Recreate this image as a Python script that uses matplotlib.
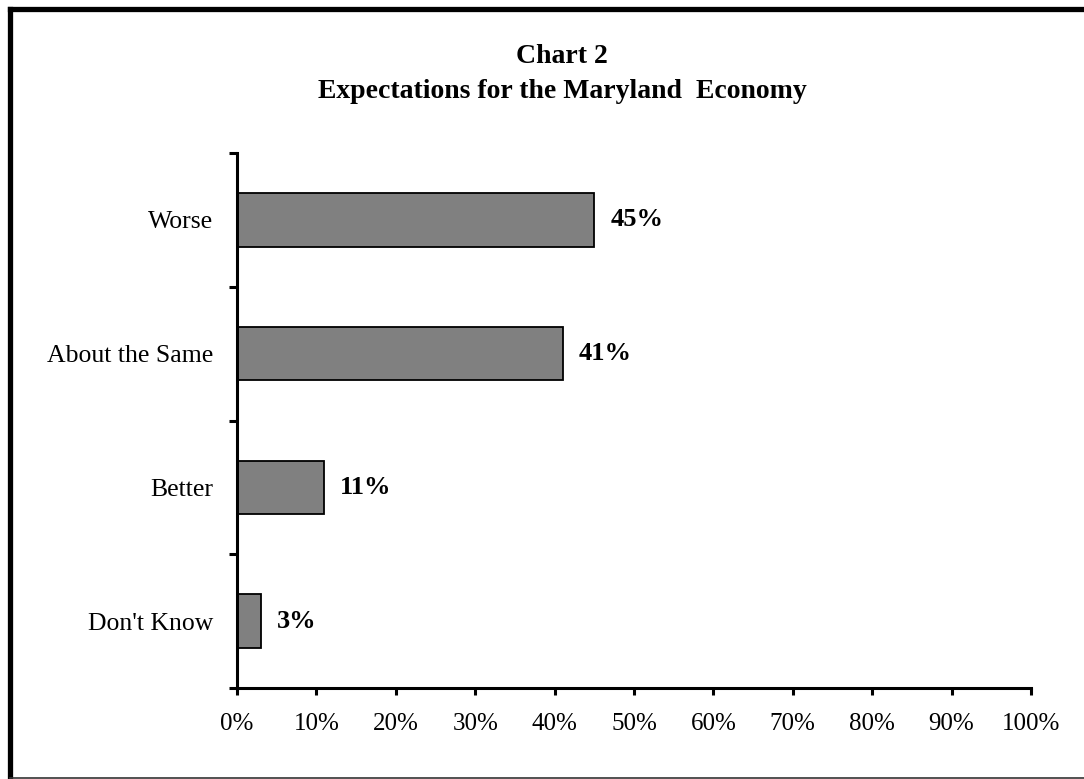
import matplotlib.pyplot as plt
from matplotlib.lines import Line2D

# survey results, bottom to top
categories = ["Don't Know", "Better", "About the Same", "Worse"]
shares = [3, 11, 41, 45]
x_ticks = [0, 10, 20, 30, 40, 50, 60, 70, 80, 90, 100]

plt.rcParams["font.family"] = ["Liberation Serif", "DejaVu Serif"]

W, H = 1084, 779
fig = plt.figure(figsize=(W / 100, H / 100), dpi=100)
ax = fig.add_axes([237 / W, 1 - 688 / H, (1031 - 237) / W, (688 - 153) / H])

pos = list(range(len(categories)))
ax.barh(pos, shares, height=0.4, color="#808080", edgecolor="black", linewidth=1.3)

for y, v in zip(pos, shares):
    ax.text(v + 2.0, y, f"{v}%", va="center", ha="left",
            fontsize=19, fontweight="bold")

ax.set_xlim(0, 100)
ax.set_ylim(-0.5, len(categories) - 0.5)

# ticks on the category boundaries, labels in between
ax.set_yticks([p - 0.5 for p in pos] + [len(pos) - 0.5])
ax.set_yticklabels([])
ax.set_yticks(pos, minor=True)
ax.set_yticklabels(categories, minor=True, fontsize=18.5)
ax.tick_params(axis="y", which="major", direction="out", length=6, width=2.2)
ax.tick_params(axis="y", which="minor", length=0, pad=17)

ax.set_xticks(x_ticks)
ax.set_xticklabels([f"{t}%" for t in x_ticks], fontsize=18)
ax.tick_params(axis="x", direction="out", length=5, width=2.2, pad=13)

for s in ["top", "right"]:
    ax.spines[s].set_visible(False)
for s in ["left", "bottom"]:
    ax.spines[s].set_linewidth(2.2)

fig.text(562 / W, 1 - 63 / H, "Chart 2", ha="center", va="baseline",
         fontsize=20, fontweight="bold")
fig.text(562 / W, 1 - 98 / H, "Expectations for the Maryland  Economy",
         ha="center", va="baseline", fontsize=20, fontweight="bold")

# outer frame
fig.add_artist(Line2D([9.5 / W, 9.5 / W], [0, 1 - 9 / H], color="black",
                      linewidth=3.8, transform=fig.transFigure, solid_capstyle="projecting"))
fig.add_artist(Line2D([9.5 / W, 1], [1 - 9 / H, 1 - 9 / H], color="black",
                      linewidth=3.8, transform=fig.transFigure, solid_capstyle="projecting"))
fig.add_artist(Line2D([9.5 / W, 1], [1.2 / H, 1.2 / H], color="#333333",
                      linewidth=1.2, transform=fig.transFigure))

fig.savefig("out.png", dpi=100)
